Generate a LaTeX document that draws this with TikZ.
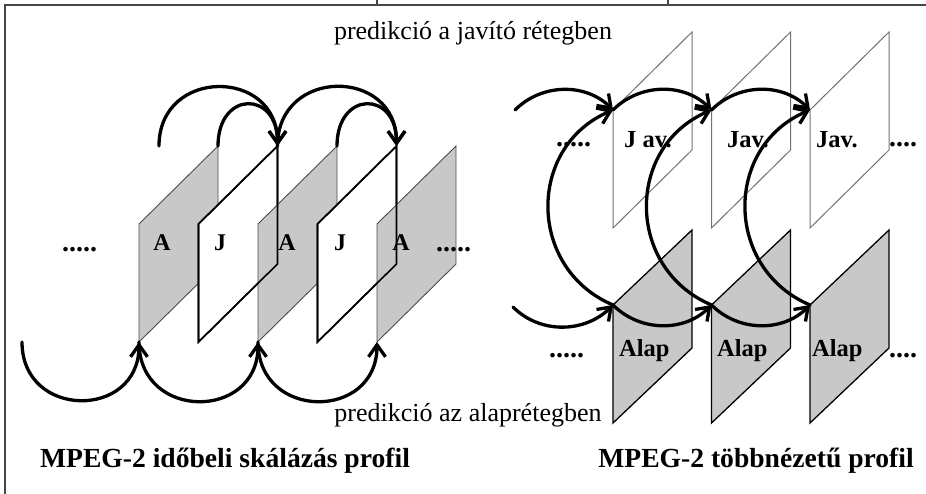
\documentclass[tikz,border=0pt]{standalone}
\usepackage{fontspec}
\setmainfont{Liberation Serif}
\usetikzlibrary{arrows.meta}
\definecolor{planegray}{RGB}{200,200,200}
\definecolor{framegray}{RGB}{70,70,70}
\newcommand\mkplane[5]{%
  \coordinate (#1tl) at (#2,#3);
  \coordinate (#1bl) at (#2,#3+#5);
  \coordinate (#1tr) at (#2+79,#4);
  \coordinate (#1br) at (#2+79,#4+#5);
}
\newcommand\drawplane[2]{\path[#2] (#1tl) -- (#1tr) -- (#1br) -- (#1bl) -- cycle;}
\begin{document}
\begin{tikzpicture}[x=1pt,y=-1pt,
  apl/.style={fill=planegray,draw=black!70,line width=0.9pt},
  jpl/.style={fill=white,draw=black,line width=1.6pt},
  jline/.style={draw=black,line width=1.6pt},
  javpl/.style={fill=white,draw=black!55,line width=1pt},
  alappl/.style={fill=planegray,draw=black,line width=1.3pt},
  arr/.style={-{Straight Barb[length=12pt,width=17pt]},line width=3.3pt,line cap=round},
  lbl/.style={font=\bfseries\fontsize{24}{24}\selectfont,anchor=base,inner sep=0pt},
  jlbl/.style={font=\bfseries\fontsize{24.5}{24}\selectfont,anchor=base west,inner sep=0pt},
  dots/.style={font=\bfseries\fontsize{28}{28}\selectfont,anchor=base west,inner sep=0pt},
  captext/.style={font=\fontsize{26}{30}\selectfont,anchor=base,inner sep=0pt},
  title/.style={font=\bfseries\fontsize{27.6}{30}\selectfont,anchor=base,inner sep=0pt},
  frame/.style={draw=framegray,line width=1.3pt}]
\useasboundingbox (0,0) rectangle (926,494);
% frame
\coordinate (f1) at (5,5);
\coordinate (f2) at (926,5);
\coordinate (f3) at (5,494);
\coordinate (t1a) at (377,0);
\coordinate (t1b) at (377,5);
\coordinate (t2a) at (668,0);
\coordinate (t2b) at (668,5);
\draw[frame] (f2) -- (f1) -- (f3);
\draw[frame] (t1a) -- (t1b);
\draw[frame] (t2a) -- (t2b);
% ---------- left diagram ----------
\mkplane{A1}{139}{224}{146}{118}
\mkplane{J1}{198.5}{224}{146}{118}
\mkplane{A2}{258}{224}{146}{118}
\mkplane{J2}{317.5}{224}{146}{118}
\mkplane{A3}{377}{224}{146}{118}
\coordinate (J0tr) at (159,146);
\coordinate (A0bl) at (22,342);
\drawplane{A1}{apl}
\drawplane{J1}{jpl}
\drawplane{A2}{apl}
\drawplane{J2}{jpl}
\drawplane{A3}{apl}
\drawplane{J1}{jline}
\drawplane{J2}{jline}
\node[lbl] (lA1) at (162,251) {A};
\node[lbl] (lJ1) at (220,251) {J};
\node[lbl] (lA2) at (287,251) {A};
\node[lbl] (lJ2) at (340,251) {J};
\node[lbl] (lA3) at (401,251) {A};
\node[dots] (ld1) at (62,252) {.....};
\node[dots] (ld2) at (436,252) {.....};
% top arrows
\draw[arr] (J0tr) to[out=90,in=90,looseness=1.7] (J1tr);
\draw[arr] (A1tr) to[out=90,in=90,looseness=2.4] (J1tr);
\draw[arr] (J1tr) to[out=90,in=90,looseness=1.7] (J2tr);
\draw[arr] (A2tr) to[out=90,in=90,looseness=2.4] (J2tr);
% bottom arrows
\draw[arr] (A0bl) to[out=-90,in=-90,looseness=1.7] (A1bl);
\draw[arr] (A1bl) to[out=-90,in=-90,looseness=1.7] (A2bl);
\draw[arr] (A2bl) to[out=-90,in=-90,looseness=1.7] (A3bl);
% ---------- right diagram ----------
\mkplane{V1}{613}{110}{32}{118}
\mkplane{V2}{711.5}{110}{32}{118}
\mkplane{V3}{810}{110}{32}{118}
\mkplane{B1}{613}{305}{230}{118}
\mkplane{B2}{711.5}{305}{230}{118}
\mkplane{B3}{810}{305}{230}{118}
\drawplane{V1}{javpl}
\drawplane{V2}{javpl}
\drawplane{V3}{javpl}
\drawplane{B1}{alappl}
\drawplane{B2}{alappl}
\drawplane{B3}{alappl}
\coordinate (V0tl) at (515,110);
\coordinate (B0tl) at (513,307);
\node[jlbl] (lV1) at (624,148) {J av.};
\node[jlbl] (lV2) at (727,148) {Jav.};
\node[jlbl] (lV3) at (816,148) {Jav.};
\node[jlbl] (lB1) at (619,356) {Alap};
\node[jlbl] (lB2) at (717,356) {Alap};
\node[jlbl] (lB3) at (812,356) {Alap};
\node[dots] (rd1) at (556,147) {.....};
\node[dots] (rd2) at (889,147) {....};
\node[dots] (rd3) at (549,357) {.....};
\node[dots] (rd4) at (889,357) {....};
% arrows
\draw[arr] (V0tl) to[out=45,in=135] (V1tl);
\draw[arr] (V1tl) to[out=45,in=135] (V2tl);
\draw[arr] (V2tl) to[out=45,in=135] (V3tl);
\draw[arr] (B0tl) to[out=-45,in=-135] (B1tl);
\draw[arr] (B1tl) to[out=-45,in=-135] (B2tl);
\draw[arr] (B2tl) to[out=-45,in=-135] (B3tl);
\draw[arr] (B1tl) to[out=157,in=203,looseness=1.23] (V1tl);
\draw[arr] (B2tl) to[out=157,in=203,looseness=1.23] (V2tl);
\draw[arr] (B3tl) to[out=157,in=203,looseness=1.23] (V3tl);
% texts
\node[captext] (c1) at (473,40) {predikció a javító rétegben};
\node[captext] (c2) at (468,421) {predikció az alaprétegben};
\node[title] (t1) at (225,467) {MPEG-2 időbeli skálázás profil};
\node[title] (t2) at (756,467) {MPEG-2 többnézetű profil};
\end{tikzpicture}
\end{document}
